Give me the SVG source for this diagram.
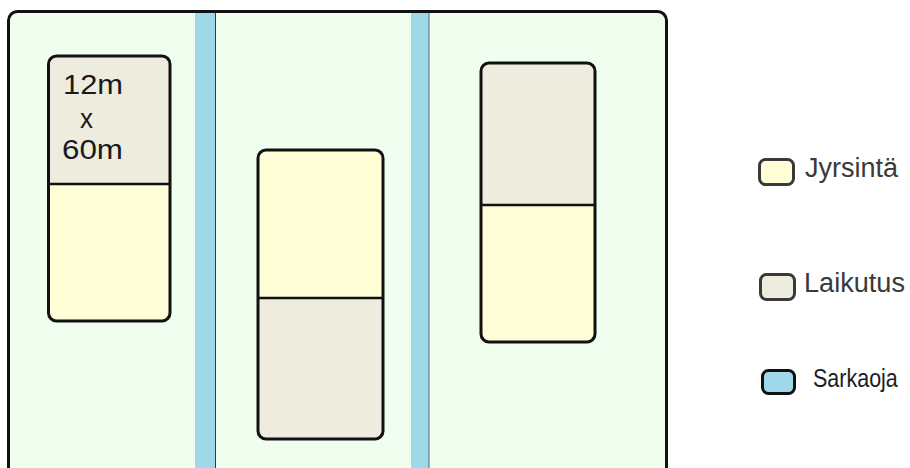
<svg xmlns="http://www.w3.org/2000/svg" width="910" height="468" viewBox="0 0 910 468">
<style>
.blk{stroke:#111;stroke-width:3}
.gray{fill:#eeecdf}
.yel{fill:#fffdd6}
.ditch{fill:#9fd8e9}
.div{stroke:#111;stroke-width:2.5}
.lbl{font-family:"Liberation Sans",Arial,sans-serif;font-size:27px;fill:#3a3a3a}
.dim{font-family:"Liberation Sans",Arial,sans-serif;font-size:27px;fill:#1a1a1a}
</style>
<rect width="910" height="468" fill="#ffffff"/>
<g id="field">
<rect x="8.5" y="11.5" width="658" height="480" rx="9" fill="#f0fef0"/>
</g>
<g id="ditch1">
<rect class="ditch" x="195" y="11" width="20.5" height="460"/>
<line x1="215.5" y1="11" x2="215.5" y2="468" stroke="#2a3a50" stroke-width="1"/>
</g>
<g id="ditch2">
<rect class="ditch" x="411" y="11" width="18" height="460"/>
<line x1="429" y1="11" x2="429" y2="468" stroke="#5a6470" stroke-width="1"/>
</g>
<g id="field-border">
<rect x="8.5" y="11.5" width="658" height="480" rx="9" fill="none" stroke="#111" stroke-width="3"/>
</g>
<g id="plot1">
<path class="gray" d="M48.5 184 V64 a8 8 0 0 1 8 -8 H162 a8 8 0 0 1 8 8 V184 Z"/>
<path class="yel" d="M48.5 184 V313 a8 8 0 0 0 8 8 H162 a8 8 0 0 0 8 -8 V184 Z"/>
<rect class="blk" x="48.5" y="56" width="121.5" height="265" rx="8" fill="none"/>
<line class="div" x1="48.5" y1="184" x2="170" y2="184"/>
<text class="dim" x="63" y="94" textLength="60" lengthAdjust="spacingAndGlyphs">12m</text>
<text class="dim" x="80" y="128" textLength="13" lengthAdjust="spacingAndGlyphs">x</text>
<text class="dim" x="62" y="159" textLength="61" lengthAdjust="spacingAndGlyphs">60m</text>
</g>
<g id="plot2">
<path class="yel" d="M258 298 V158 a8 8 0 0 1 8 -8 H375 a8 8 0 0 1 8 8 V298 Z"/>
<path class="gray" d="M258 298 V431 a8 8 0 0 0 8 8 H375 a8 8 0 0 0 8 -8 V298 Z"/>
<rect class="blk" x="258" y="150" width="125" height="289" rx="8" fill="none"/>
<line class="div" x1="258" y1="298" x2="383" y2="298"/>
</g>
<g id="plot3">
<path class="gray" d="M481 205 V71 a8 8 0 0 1 8 -8 H587 a8 8 0 0 1 8 8 V205 Z"/>
<path class="yel" d="M481 205 V334 a8 8 0 0 0 8 8 H587 a8 8 0 0 0 8 -8 V205 Z"/>
<rect class="blk" x="481" y="63" width="114" height="279" rx="8" fill="none"/>
<line class="div" x1="481" y1="205" x2="595" y2="205"/>
</g>
<g id="legend-jyrsinta">
<rect x="759.5" y="159.5" width="34" height="25" rx="6" fill="#fffdd6" stroke="#3a3a3a" stroke-width="3"/>
<text class="lbl" x="805" y="177" textLength="93" lengthAdjust="spacingAndGlyphs">Jyrsintä</text>
</g>
<g id="legend-laikutus">
<rect x="760.5" y="274.5" width="34" height="25" rx="6" fill="#eeecdf" stroke="#3a3a3a" stroke-width="3"/>
<text class="lbl" x="804" y="292" textLength="101" lengthAdjust="spacingAndGlyphs">Laikutus</text>
</g>
<g id="legend-sarkaoja">
<rect x="762.5" y="370.5" width="32" height="23" rx="6" fill="#9fd8e9" stroke="#111" stroke-width="3"/>
<text class="lbl" transform="translate(813 387) scale(1 1.2)" x="0" y="0" style="fill:#1e1e1e;font-size:21.5px">Sarkaoja</text>
</g>
<g id="connectors"></g>
</svg>
